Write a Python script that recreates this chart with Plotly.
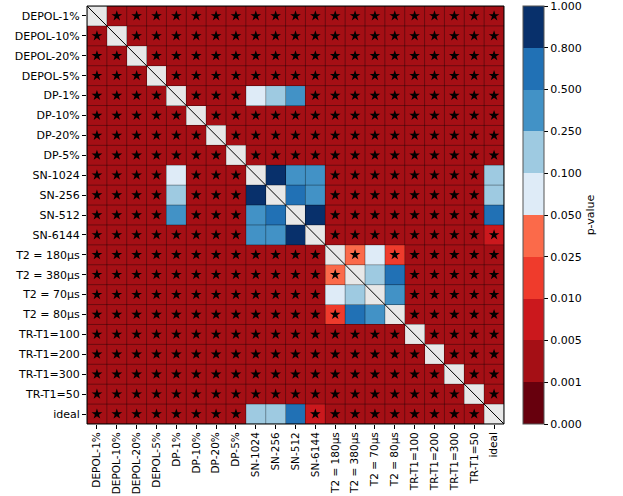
import numpy as np
import plotly.graph_objects as go

labels = ["DEPOL-1%", "DEPOL-10%", "DEPOL-20%", "DEPOL-5%",
          "DP-1%", "DP-10%", "DP-20%", "DP-5%",
          "SN-1024", "SN-256", "SN-512", "SN-6144",
          "T2 = 180µs", "T2 = 380µs", "T2 = 70µs", "T2 = 80µs",
          "TR-T1=100", "TR-T1=200", "TR-T1=300", "TR-T1=50", "ideal"]

N = None
# pairwise p-values (row = first model, column = second model)
pvalues = [
    [N, .002, .002, .002, .002, .002, .002, .002, .002, .002, .002, .002, .002, .002, .002, .002, .002, .002, .002, .002, .002],
    [.002, N, .002, .002, .002, .002, .002, .002, .002, .002, .002, .002, .002, .002, .002, .002, .002, .002, .002, .002, .002],
    [.002, .002, N, .002, .002, .002, .002, .002, .002, .002, .002, .002, .002, .002, .002, .002, .002, .002, .002, .002, .002],
    [.002, .002, .002, N, .002, .002, .002, .002, .002, .002, .002, .002, .002, .002, .002, .002, .002, .002, .002, .002, .002],
    [.002, .002, .002, .002, N, .002, .002, .002, .070, .150, .350, .002, .002, .002, .002, .002, .002, .002, .002, .002, .002],
    [.002, .002, .002, .002, .002, N, .002, .002, .002, .002, .002, .002, .002, .002, .002, .002, .002, .002, .002, .002, .002],
    [.002, .002, .002, .002, .002, .002, N, .002, .002, .002, .002, .002, .002, .002, .002, .002, .002, .002, .002, .002, .002],
    [.002, .002, .002, .002, .002, .002, .002, N, .002, .002, .002, .002, .002, .002, .002, .002, .002, .002, .002, .002, .002],
    [.002, .002, .002, .002, .070, .002, .002, .002, N, .900, .350, .350, .002, .002, .002, .002, .002, .002, .002, .002, .150],
    [.002, .002, .002, .002, .150, .002, .002, .002, .900, N, .600, .350, .002, .002, .002, .002, .002, .002, .002, .002, .150],
    [.002, .002, .002, .002, .350, .002, .002, .002, .350, .600, N, .900, .002, .002, .002, .002, .002, .002, .002, .002, .600],
    [.002, .002, .002, .002, .002, .002, .002, .002, .350, .350, .900, N, .002, .002, .002, .002, .002, .002, .002, .002, .008],
    [.002, .002, .002, .002, .002, .002, .002, .002, .002, .002, .002, .002, N, .030, .070, .020, .002, .002, .002, .002, .002],
    [.002, .002, .002, .002, .002, .002, .002, .002, .002, .002, .002, .002, .030, N, .150, .600, .002, .002, .002, .002, .002],
    [.002, .002, .002, .002, .002, .002, .002, .002, .002, .002, .002, .002, .070, .150, N, .350, .002, .002, .002, .002, .002],
    [.002, .002, .002, .002, .002, .002, .002, .002, .002, .002, .002, .002, .020, .600, .350, N, .002, .002, .002, .002, .002],
    [.002, .002, .002, .002, .002, .002, .002, .002, .002, .002, .002, .002, .002, .002, .002, .002, N, .002, .002, .002, .002],
    [.002, .002, .002, .002, .002, .002, .002, .002, .002, .002, .002, .002, .002, .002, .002, .002, .002, N, .002, .002, .002],
    [.002, .002, .002, .002, .002, .002, .002, .002, .002, .002, .002, .002, .002, .002, .002, .002, .002, .002, N, .002, .002],
    [.002, .002, .002, .002, .002, .002, .002, .002, .002, .002, .002, .002, .002, .002, .002, .002, .002, .002, .002, N, .002],
    [.002, .002, .002, .002, .002, .002, .002, .002, .150, .150, .600, .008, .002, .002, .002, .002, .002, .002, .002, .002, N],
]

bounds = [0, 0.001, 0.005, 0.010, 0.025, 0.050, 0.100, 0.250, 0.500, 0.800, 1.000]
bin_colors = ["#67000d", "#a50f15", "#cb181d", "#ef3b2c", "#fb6a4a",
              "#deebf7", "#9ecae1", "#4292c6", "#2171b5", "#08306b"]
alpha = 0.05

n = len(labels)
P = np.array([[np.nan if v is None else v for v in row] for row in pvalues], dtype=float)

# map each p-value to its bin so the colour steps are evenly spaced
Z = np.full(P.shape, np.nan)
mask = ~np.isnan(P)
Z[mask] = np.clip(np.digitize(P[mask], bounds) - 1, 0, len(bin_colors) - 1) + 0.5

nb = len(bin_colors)
colorscale = []
for i, c in enumerate(bin_colors):
    colorscale.append([i / nb, c])
    colorscale.append([(i + 1) / nb, c])

# boundary tick positions; nudge the end ones inward so they are kept
cb_ticks = [float(k) for k in range(nb + 1)]
cb_ticks[0] += 1e-6
cb_ticks[-1] -= 1e-6

font = "DejaVu Sans, Liberation Sans, sans-serif"

fig = go.Figure()
fig.add_trace(go.Heatmap(
    z=Z, x=list(range(n)), y=list(range(n)),
    zmin=0, zmax=nb, colorscale=colorscale,
    hoverongaps=False,
    colorbar=dict(
        x=1.045, xanchor="left", y=0.5, yanchor="middle",
        len=1.0, lenmode="fraction", thickness=21, xpad=0, ypad=0,
        outlinecolor="#555555", outlinewidth=1,
        tickmode="array", tickvals=cb_ticks,
        ticktext=[f"{b:.3f}" for b in bounds],
        ticklabeloverflow="allow",
        ticks="outside", ticklen=4, tickcolor="black",
        tickfont=dict(family=font, size=11, color="black"),
        title=dict(text="p-value", side="right",
                   font=dict(family=font, size=11, color="black")),
    ),
))

# stars on significant off-diagonal pairs
sx, sy = [], []
for i in range(n):
    for j in range(n):
        if i != j and not np.isnan(P[i, j]) and P[i, j] < alpha:
            sx.append(j)
            sy.append(i)
fig.add_trace(go.Scatter(
    x=sx, y=sy, mode="markers",
    marker=dict(symbol="star", size=8, color="black", line=dict(width=0)),
    showlegend=False, hoverinfo="skip",
))

shapes = []
for k in range(n + 1):
    pos = k - 0.5
    shapes.append(dict(type="line", xref="x", yref="y", x0=pos, x1=pos,
                       y0=-0.5, y1=n - 0.5, line=dict(color="rgba(0,0,0,0.35)", width=1)))
    shapes.append(dict(type="line", xref="x", yref="y", y0=pos, y1=pos,
                       x0=-0.5, x1=n - 0.5, line=dict(color="rgba(0,0,0,0.35)", width=1)))
shapes.append(dict(type="line", xref="x", yref="y", x0=-0.5, y0=-0.5,
                   x1=n - 0.5, y1=n - 0.5, line=dict(color="black", width=1)))
shapes.append(dict(type="rect", xref="paper", yref="paper", x0=0, y0=0, x1=1, y1=1,
                   line=dict(color="black", width=1)))

fig.update_layout(
    width=623, height=496,
    margin=dict(l=87, r=119, t=6, b=72),
    paper_bgcolor="white", plot_bgcolor="#e8e8e8",
    shapes=shapes, showlegend=False,
    font=dict(family=font, size=11, color="black"),
)
fig.update_xaxes(
    range=[-0.5, n - 0.5], tickmode="array", tickvals=list(range(n)), ticktext=labels,
    tickangle=-90, ticks="outside", ticklen=4, tickcolor="black", automargin=False,
    ticklabelstandoff=-1,
    showgrid=False, zeroline=False, showline=False,
    tickfont=dict(family=font, size=10.5, color="black"),
)
fig.update_yaxes(
    range=[n - 0.5, -0.5], tickmode="array", tickvals=list(range(n)), ticktext=labels,
    ticks="outside", ticklen=4, tickcolor="black", automargin=False,
    showgrid=False, zeroline=False, showline=False,
    tickfont=dict(family=font, size=11, color="black"),
)

fig.write_html("out.html")
